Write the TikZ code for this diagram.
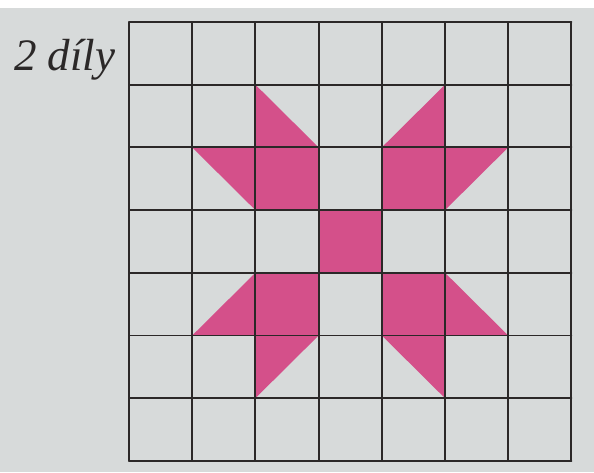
\documentclass[tikz,border=0pt]{standalone}
\usepackage{fontspec}
\setmainfont{Liberation Serif}
\definecolor{paper}{HTML}{D7DADA}
\definecolor{pinkfill}{HTML}{D4508A}
\definecolor{ink}{HTML}{2B2828}
\tikzset{
  gridline/.style={draw=ink, line width=1.9pt, line cap=round},
  piece/.style={fill=pinkfill, draw=none},
  label/.style={font=\itshape\fontsize{45}{45}\selectfont, text=ink, inner sep=0pt}
}
\begin{document}
\begin{tikzpicture}[x=1pt,y=-1pt]
  \fill[paper] (0,0) rectangle (594,472);
  \useasboundingbox (0,0) rectangle (594,472);
  \fill[white] (0,0) rectangle (594,8);
  \node[label, anchor=base west] (title) at (14,70) {2 díly};
  \begin{scope}[shift={(129,22)}, x=63.2pt, y=-62.7pt]
    % pink pieces
    \fill[piece] (3,3) rectangle (4,4);
    \fill[piece] (2,2) rectangle (3,3);
    \fill[piece] (4,2) rectangle (5,3);
    \fill[piece] (2,4) rectangle (3,5);
    \fill[piece] (4,4) rectangle (5,5);
    \fill[piece] (2,1) -- (2,2) -- (3,2) -- cycle;
    \fill[piece] (1,2) -- (2,2) -- (2,3) -- cycle;
    \fill[piece] (5,1) -- (5,2) -- (4,2) -- cycle;
    \fill[piece] (5,2) -- (6,2) -- (5,3) -- cycle;
    \fill[piece] (2,4) -- (2,5) -- (1,5) -- cycle;
    \fill[piece] (2,5) -- (3,5) -- (2,6) -- cycle;
    \fill[piece] (5,4) -- (6,5) -- (5,5) -- cycle;
    \fill[piece] (4,5) -- (5,5) -- (5,6) -- cycle;
    % grid
    \foreach \i in {0,...,7} {
      \draw[gridline] (\i,0) -- (\i,7);
      \draw[gridline] (0,\i) -- (7,\i);
    }
  \end{scope}
\end{tikzpicture}
\end{document}
